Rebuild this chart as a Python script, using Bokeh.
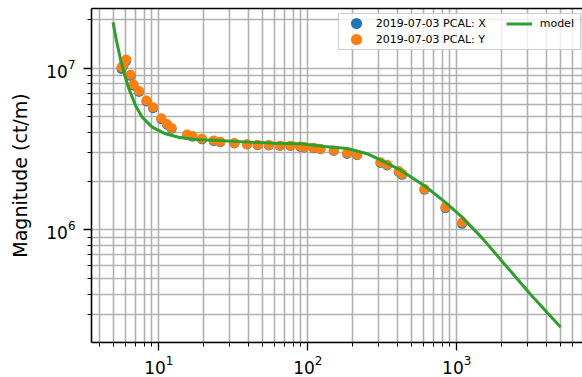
from bokeh.plotting import figure
from bokeh.models import (LogAxis, FixedTicker, Legend, LegendItem, Range1d,
                          BoxAnnotation)
from bokeh.embed import file_html
from bokeh.resources import INLINE

# measured frequencies (Hz)
freq = [5.62, 5.82, 6.04, 6.46, 6.77, 7.37, 8.27, 9.15, 10.4, 11.35, 12.2,
        15.5, 16.8, 19.5, 23.4, 25.9, 32.2, 39.1, 46.1, 54.7, 65.0, 76.5,
        89.3, 95.0, 109.7, 121.6, 149.4, 183.6, 214.6, 307.6, 341.0, 408.0,
        430.0, 607.0, 840.0, 1087.0]
# PCAL Y magnitude (ct/m)
mag_y = [1.014e7, 1.065e7, 1.132e7, 9.10e6, 7.93e6, 7.23e6, 6.31e6, 5.74e6,
         4.90e6, 4.52e6, 4.27e6, 3.89e6, 3.81e6, 3.66e6, 3.57e6, 3.51e6,
         3.45e6, 3.39e6, 3.36e6, 3.35e6, 3.32e6, 3.32e6, 3.28e6, 3.25e6,
         3.22e6, 3.17e6, 3.10e6, 2.98e6, 2.92e6, 2.62e6, 2.53e6, 2.31e6,
         2.22e6, 1.79e6, 1.38e6, 1.11e6]
# PCAL X magnitude (ct/m)
mag_x = [0.99e7, 1.05e7, 1.11e7, 8.95e6, 7.80e6, 7.12e6, 6.22e6, 5.66e6,
         4.84e6, 4.47e6, 4.22e6, 3.85e6, 3.77e6, 3.63e6, 3.54e6, 3.48e6,
         3.42e6, 3.37e6, 3.34e6, 3.33e6, 3.30e6, 3.30e6, 3.26e6, 3.23e6,
         3.20e6, 3.15e6, 3.08e6, 2.95e6, 2.90e6, 2.59e6, 2.50e6, 2.28e6,
         2.19e6, 1.77e6, 1.36e6, 1.09e6]
# model curve
model_freq = [4.93, 5.2, 5.53, 5.89, 6.29, 6.98, 7.74, 9.03, 11.09, 13.6,
              17.6, 25.0, 40.0, 60.0, 89.8, 130.0, 184.6, 250.0, 307.0,
              421.0, 617.0, 840.0, 1087.0, 1500.0, 2076.0, 3124.0, 4990.0]
model_mag = [1.925e7, 1.48e7, 1.143e7, 9.14e6, 7.49e6, 5.88e6, 4.98e6,
             4.32e6, 3.93e6, 3.74e6, 3.62e6, 3.57e6, 3.49e6, 3.44e6, 3.41e6,
             3.28e6, 3.19e6, 2.96e6, 2.71e6, 2.34e6, 1.855e6, 1.48e6, 1.20e6,
             8.8e5, 6.2e5, 4.0e5, 2.5e5]

labels = ["2019-07-03 PCAL: X", "2019-07-03 PCAL: Y", "model"]

x_major = [10, 100, 1000]
x_minor = [m * d for d in (1, 10, 100, 1000) for m in range(2, 10)]
y_major = [1e6, 1e7]
y_minor = [m * d for d in (1e5, 1e6, 1e7) for m in range(2, 10)]

FONT = "DejaVu Sans"
GRID = "#b0b0b0"
LEG_FS = "11px"

p = figure(width=582, height=377, x_axis_type="log", y_axis_type="log",
           x_range=Range1d(3.535, 6990), y_range=Range1d(2.012e5, 2.34e7),
           output_backend="svg", toolbar_location=None,
           min_border_left=91, min_border_right=0, min_border_top=8,
           min_border_bottom=35)
p.outline_line_color = None
p.background_fill_color = "white"
p.border_fill_color = "white"

p.xaxis.ticker = FixedTicker(ticks=x_major, minor_ticks=x_minor)
p.yaxis.ticker = FixedTicker(ticks=y_major, minor_ticks=y_minor)
for ax in (p.xaxis, p.yaxis):
    ax.axis_line_width = 1.6
    ax.axis_line_color = "black"
    ax.major_tick_out = 8
    ax.major_tick_in = 0
    ax.minor_tick_out = 4
    ax.minor_tick_in = 0
    ax.major_tick_line_width = 1.3
    ax.minor_tick_line_width = 1.0
    ax.major_tick_line_color = "black"
    ax.minor_tick_line_color = "black"
    ax.major_label_text_font = FONT
    ax.major_label_text_font_size = "17px"
    ax.major_label_text_color = "black"
p.xaxis.major_label_standoff = 4
p.yaxis.major_label_standoff = 8
p.yaxis.axis_label = "Magnitude (ct/m)"
p.yaxis.axis_label_text_font = FONT
p.yaxis.axis_label_text_font_size = "19px"
p.yaxis.axis_label_text_font_style = "normal"
p.yaxis.axis_label_text_color = "black"
p.yaxis.axis_label_standoff = 12

top = LogAxis(ticker=FixedTicker(ticks=[]), major_tick_out=0, major_tick_in=0,
              minor_tick_out=0, minor_tick_in=0, major_label_standoff=0,
              major_label_text_font_size="0px", axis_line_width=1.6,
              axis_line_color="black")
p.add_layout(top, "above")

for g in (p.xgrid, p.ygrid):
    g.grid_line_color = GRID
    g.grid_line_width = 1.6
    g.minor_grid_line_color = GRID
    g.minor_grid_line_width = 1.6

rx = p.scatter(freq, mag_x, size=10, color="#1f77b4", line_color=None)
ry = p.scatter(freq, mag_y, size=10, color="#ff7f0e", line_color=None)
rm = p.line(model_freq, model_mag, line_color="#2ca02c", line_width=3)

# legend frame (frame-relative screen units, y measured from frame bottom)
box = BoxAnnotation(left=247, right=489, top=329, bottom=293,
                    left_units="screen", right_units="screen",
                    top_units="screen", bottom_units="screen",
                    fill_color="white", fill_alpha=0.8,
                    line_color="#cccccc", line_width=1, line_alpha=1.0)
p.add_layout(box)

common = dict(margin=0, padding=0, spacing=0, label_text_font=FONT,
              label_text_font_size=LEG_FS, label_text_color="black",
              border_line_color=None, background_fill_alpha=0)
leg_x = Legend(items=[LegendItem(label=labels[0], renderers=[rx])],
               location=(250.7, 304.7), glyph_width=28, glyph_height=28,
               label_height=13, label_standoff=6, **common)
leg_y = Legend(items=[LegendItem(label=labels[1], renderers=[ry])],
               location=(250.7, 288.7), glyph_width=28, glyph_height=28,
               label_height=13, label_standoff=6, **common)
leg_model = Legend(items=[LegendItem(label=labels[2], renderers=[rm])],
                   location=(414.7, 312.2), glyph_width=26, glyph_height=13,
                   label_height=13, label_standoff=8, **common)
p.add_layout(leg_x)
p.add_layout(leg_y)
p.add_layout(leg_model)

open("out.html", "w").write(file_html(p, INLINE))
